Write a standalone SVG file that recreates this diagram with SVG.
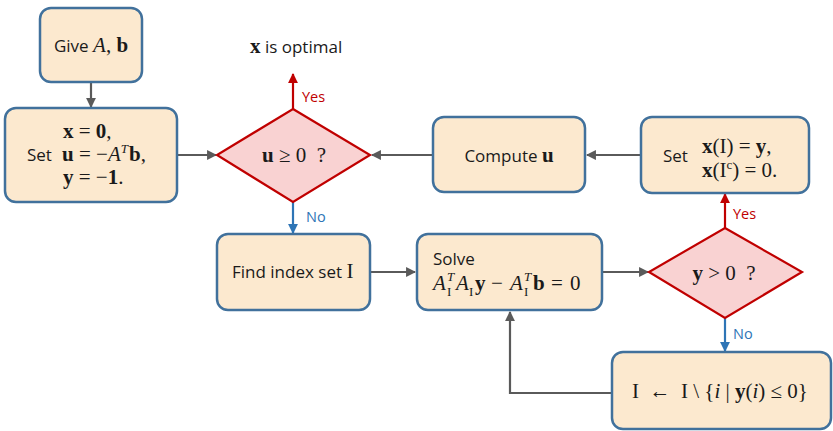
<svg xmlns="http://www.w3.org/2000/svg" width="833" height="431" viewBox="0 0 833 431">
<style>
.box{fill:#fce9cf;stroke:#41719c;stroke-width:2.5}
.dia{fill:#f9d2d2;stroke:#c00000;stroke-width:2.2}
.t{font-family:"Open Sans","Liberation Sans",sans-serif;font-size:17px;fill:#1a1a1a}
.m{font-family:"Liberation Serif","DejaVu Serif",serif;font-size:21px;fill:#1a1a1a;white-space:pre}
.s{font-size:13px}
.b{font-weight:bold}
.i{font-style:italic}
.c{stroke:#5a5a5a;stroke-width:2.2;fill:none}
.red{stroke:#c00000;stroke-width:2.2;fill:none}
.blue{stroke:#2e75b6;stroke-width:2.2;fill:none}
.yes{font-family:"Open Sans","Liberation Sans",sans-serif;font-size:14.5px;fill:#c00000}
.no{font-family:"Open Sans","Liberation Sans",sans-serif;font-size:14.5px;fill:#2e75b6}
</style>
<defs>
<marker id="ag" viewBox="0 0 10 10" refX="9" refY="5" markerWidth="4.5" markerHeight="4.5" orient="auto"><path d="M0,0L10,5L0,10z" fill="#5a5a5a"/></marker>
<marker id="ar" viewBox="0 0 10 10" refX="9" refY="5" markerWidth="4.5" markerHeight="4.5" orient="auto"><path d="M0,0L10,5L0,10z" fill="#c00000"/></marker>
<marker id="ab" viewBox="0 0 10 10" refX="9" refY="5" markerWidth="4.5" markerHeight="4.5" orient="auto"><path d="M0,0L10,5L0,10z" fill="#2e75b6"/></marker>
</defs>

<g id="connectors">
<path class="c" d="M91,82V107" marker-end="url(#ag)"/>
<path class="c" d="M177,155H216" marker-end="url(#ag)"/>
<path class="c" d="M433,155H372" marker-end="url(#ag)"/>
<path class="c" d="M641,155H587" marker-end="url(#ag)"/>
<path class="c" d="M370,272H415" marker-end="url(#ag)"/>
<path class="c" d="M602,272H648" marker-end="url(#ag)"/>
<path class="c" d="M612,393H510V312" marker-end="url(#ag)"/>
<path class="red" d="M293,109V74" marker-end="url(#ar)"/>
<path class="red" d="M725,228V194" marker-end="url(#ar)"/>
<path class="blue" d="M293,202V233" marker-end="url(#ab)"/>
<path class="blue" d="M725,318V351" marker-end="url(#ab)"/>
<text class="yes" x="302" y="102">Yes</text>
<text class="no" x="306" y="222">No</text>
<text class="yes" x="733" y="219">Yes</text>
<text class="no" x="733" y="339">No</text>
</g>

<g id="give">
<rect class="box" x="40" y="8" width="102" height="74" rx="11"/>
<text x="91" y="52" text-anchor="middle"><tspan class="t">Give </tspan><tspan class="m i">A</tspan><tspan class="m">, </tspan><tspan class="m b">b</tspan></text>
</g>

<g id="init">
<rect class="box" x="5" y="108" width="172" height="94" rx="11"/>
<text class="m" x="63" y="138"><tspan class="b">x</tspan> = <tspan class="b">0</tspan>,</text>
<text class="t" x="27" y="161">Set</text>
<text class="m" x="62" y="161"><tspan class="b">u</tspan> = −<tspan class="i">A</tspan><tspan class="i s" dy="-8">T</tspan><tspan class="b" dx="1" dy="8">b</tspan>,</text>
<text class="m" x="63" y="184"><tspan class="b">y</tspan> = −<tspan class="b">1</tspan>.</text>
</g>

<g id="optimal">
<text x="250" y="53"><tspan class="m b">x</tspan><tspan class="t"> is optimal</tspan></text>
</g>

<g id="check-u">
<polygon class="dia" points="293,109 370,155 293,202 217,155"/>
<text class="m" x="294" y="162" text-anchor="middle"><tspan class="b">u</tspan> ≥ 0  ?</text>
</g>

<g id="compute">
<rect class="box" x="433" y="117" width="152" height="75" rx="11"/>
<text x="509" y="162" text-anchor="middle"><tspan class="t">Compute </tspan><tspan class="m b">u</tspan></text>
</g>

<g id="setx">
<rect class="box" x="641" y="117" width="168" height="76" rx="11"/>
<text class="t" x="663" y="162">Set</text>
<text class="m" x="702" y="153"><tspan class="b">x</tspan>(I) = <tspan class="b">y</tspan>,</text>
<text class="m" x="702" y="177"><tspan class="b">x</tspan>(I<tspan class="s" dy="-8">c</tspan><tspan dy="8">) = 0.</tspan></text>
</g>

<g id="find">
<rect class="box" x="217" y="234" width="153" height="76" rx="11"/>
<text x="232" y="278"><tspan class="t">Find index set </tspan><tspan class="m">I</tspan></text>
</g>

<g id="solve">
<rect class="box" x="417" y="234" width="185" height="76" rx="11"/>
<text class="t" x="433" y="265">Solve</text>
<text class="m" y="290"><tspan class="i" x="433">A</tspan><tspan class="i s" x="447" y="281">T</tspan><tspan class="s" x="447" y="296">I</tspan><tspan class="i" x="456" y="290">A</tspan><tspan class="s" x="469" y="296">I</tspan><tspan class="b" x="475" y="290">y</tspan><tspan x="491">−</tspan><tspan class="i" x="510">A</tspan><tspan class="i s" x="524" y="281">T</tspan><tspan class="s" x="524" y="296">I</tspan><tspan class="b" x="533" y="290">b</tspan><tspan x="551">=</tspan><tspan x="570">0</tspan></text>
</g>

<g id="check-y">
<polygon class="dia" points="725,228 802,272 725,318 649,272"/>
<text class="m" x="724" y="280" text-anchor="middle"><tspan class="b">y</tspan> &gt; 0  ?</text>
</g>

<g id="update">
<rect class="box" x="612" y="352" width="219" height="77" rx="11"/>
<text class="m" x="632" y="398">I  ←  I \ {<tspan class="i">i</tspan> | <tspan class="b">y</tspan>(<tspan class="i">i</tspan>) ≤ 0}</text>
</g>
</svg>
